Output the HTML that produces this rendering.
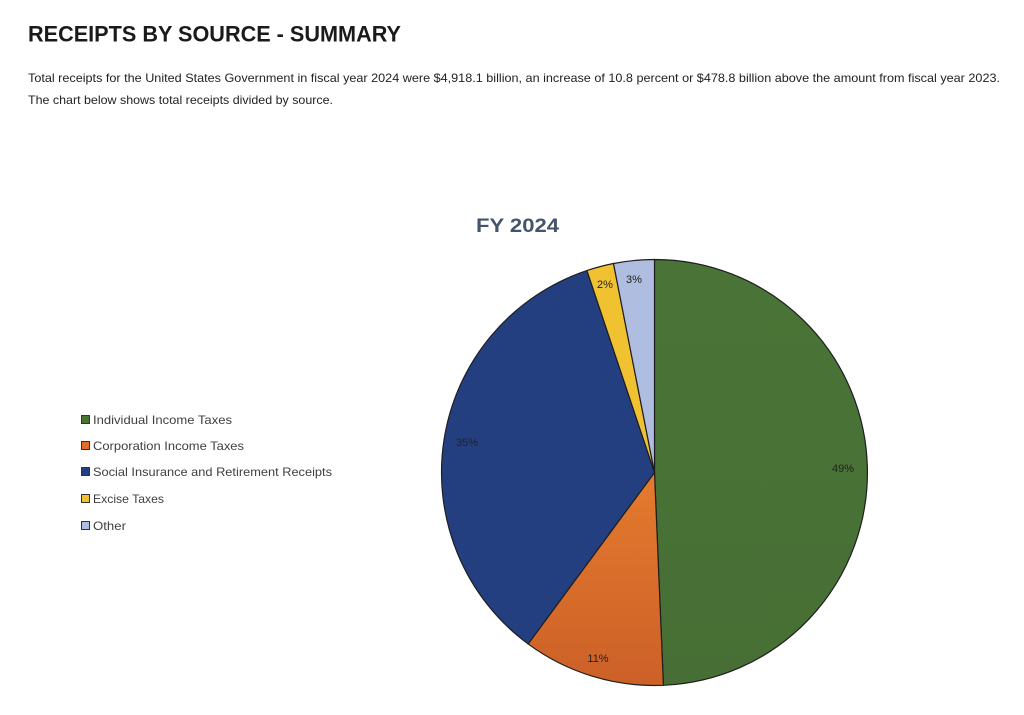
<!DOCTYPE html>
<html>
<head>
<meta charset="utf-8">
<style>
  html,body{margin:0;padding:0;background:#fff;}
  svg{display:block;}
</style>
</head>
<body>
<svg width="1024" height="715" viewBox="0 0 1024 715" xmlns="http://www.w3.org/2000/svg">
  <defs>
    <linearGradient id="gOr" x1="0" y1="0" x2="0" y2="1">
      <stop offset="0" stop-color="#e47b2e"/>
      <stop offset="1" stop-color="#cc6028"/>
    </linearGradient>
    <linearGradient id="gGr" x1="0" y1="0" x2="0" y2="1">
      <stop offset="0" stop-color="#4a7437"/>
      <stop offset="1" stop-color="#476f35"/>
    </linearGradient>
  </defs>

  <!-- Header -->
  <text x="28" y="41.5" font-family="Liberation Sans, Arial, sans-serif" font-weight="bold" font-size="22" fill="#1a1a1a" textLength="373" lengthAdjust="spacingAndGlyphs">RECEIPTS BY SOURCE - SUMMARY</text>
  <text x="28" y="82" font-family="Liberation Sans, Arial, sans-serif" font-size="12" fill="#222" textLength="972" lengthAdjust="spacingAndGlyphs">Total receipts for the United States Government in fiscal year 2024 were $4,918.1 billion, an increase of 10.8 percent or $478.8 billion above the amount from fiscal year 2023.</text>
  <text x="28" y="104" font-family="Liberation Sans, Arial, sans-serif" font-size="12" fill="#222" textLength="305" lengthAdjust="spacingAndGlyphs">The chart below shows total receipts divided by source.</text>

  <!-- Chart title -->
  <text x="476" y="232" font-family="Liberation Sans, Arial, sans-serif" font-weight="bold" font-size="19" fill="#44546a" textLength="83" lengthAdjust="spacingAndGlyphs">FY 2024</text>

  <!-- Pie -->
  <g stroke="#1e1e1e" stroke-width="1.2" stroke-linejoin="round">
    <path d="M654.5,472.5 L654.5,259.5 A213,213 0 0 1 663.42,685.31 Z" fill="url(#gGr)"/>
    <path d="M654.5,472.5 L663.42,685.31 A213,213 0 0 1 528.11,643.94 Z" fill="url(#gOr)"/>
    <path d="M654.5,472.5 L528.11,643.94 A213,213 0 0 1 586.92,270.51 Z" fill="#243f80"/>
    <path d="M654.5,472.5 L586.92,270.51 A213,213 0 0 1 613.5,263.48 Z" fill="#f0c232"/>
    <path d="M654.5,472.5 L613.5,263.48 A213,213 0 0 1 654.5,259.5 Z" fill="#aebde0"/>
  </g>

  <!-- Data labels -->
  <g font-family="Liberation Sans, Arial, sans-serif" font-size="11" fill="#222" text-anchor="middle">
    <text x="843" y="472">49%</text>
    <text x="598" y="662">11%</text>
    <text x="467" y="446">35%</text>
    <text x="605" y="288">2%</text>
    <text x="634" y="283">3%</text>
  </g>

  <!-- Legend -->
  <g stroke="#333" stroke-width="1">
    <rect x="81.5" y="415.5" width="8" height="8" fill="#4a7437"/>
    <rect x="81.5" y="441.5" width="8" height="8" fill="#e07028"/>
    <rect x="81.5" y="467.5" width="8" height="8" fill="#243f80"/>
    <rect x="81.5" y="494.5" width="8" height="8" fill="#f0c232"/>
    <rect x="81.5" y="521.5" width="8" height="8" fill="#aebde0"/>
  </g>
  <g font-family="Liberation Sans, Arial, sans-serif" font-size="12" fill="#404040">
    <text x="93" y="424" textLength="139" lengthAdjust="spacingAndGlyphs">Individual Income Taxes</text>
    <text x="93" y="450" textLength="151" lengthAdjust="spacingAndGlyphs">Corporation Income Taxes</text>
    <text x="93" y="476" textLength="239" lengthAdjust="spacingAndGlyphs">Social Insurance and Retirement Receipts</text>
    <text x="93" y="503" textLength="71" lengthAdjust="spacingAndGlyphs">Excise Taxes</text>
    <text x="93" y="530" textLength="33" lengthAdjust="spacingAndGlyphs">Other</text>
  </g>
</svg>
</body>
</html>
